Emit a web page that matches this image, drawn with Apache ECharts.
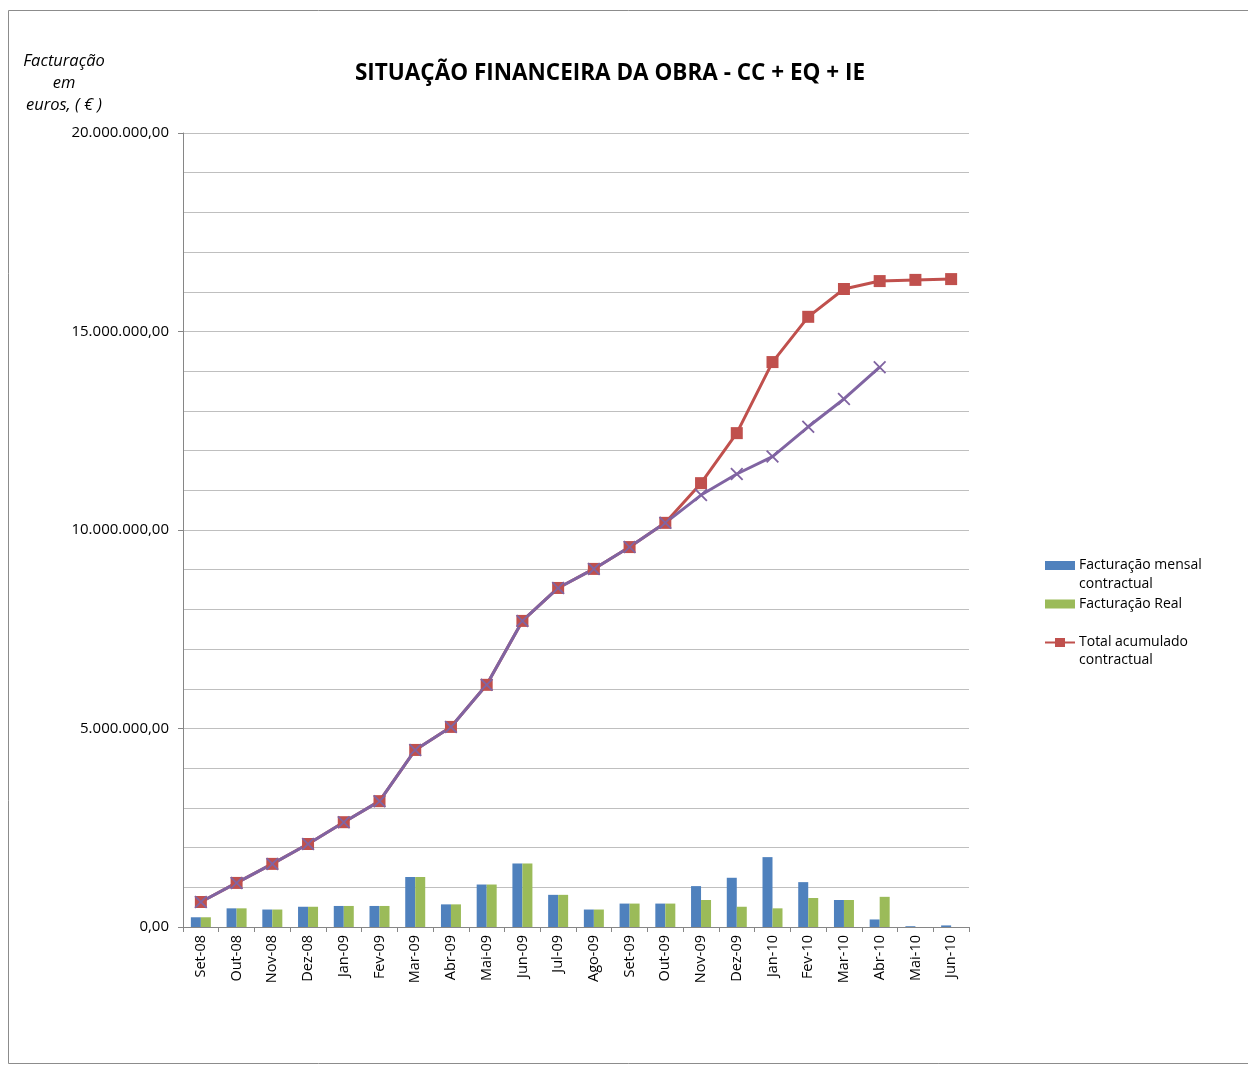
<!DOCTYPE html>
<html>
<head>
<meta charset="utf-8">
<script src="https://cdn.jsdelivr.net/npm/echarts@6/dist/echarts.min.js"></script>
<style>
  html, body { margin: 0; padding: 0; background: #fff; }
  #chart { width: 1248px; height: 1065px; }
</style>
</head>
<body>
<div id="chart"></div>
<script>
// categorias (meses)
var meses = ['Set-08','Out-08','Nov-08','Dez-08','Jan-09','Fev-09','Mar-09','Abr-09','Mai-09','Jun-09','Jul-09',
	'Ago-09','Set-09','Out-09','Nov-09','Dez-09','Jan-10','Fev-10','Mar-10','Abr-10','Mai-10','Jun-10'];

// facturação mensal contractual
var mensalContractual = [245000, 470000, 440000, 510000, 530000, 530000, 1260000, 570000, 1070000, 1600000, 810000,
	440000, 590000, 590000, 1030000, 1240000, 1760000, 1130000, 680000, 190000, 20000, 40000];

// facturação real
var mensalReal = [245000, 470000, 440000, 510000, 530000, 530000, 1260000, 570000, 1070000, 1600000, 810000,
	440000, 590000, 590000, 680000, 510000, 470000, 730000, 680000, 760000, 0, 0];

// total acumulado contractual
var acumContractual = [630000, 1110000, 1590000, 2090000, 2640000, 3170000, 4460000, 5040000, 6100000, 7710000, 8540000,
	9020000, 9570000, 10180000, 11180000, 12440000, 14230000, 15370000, 16070000, 16270000, 16300000, 16320000];

// total acumulado real
var acumReal = [630000, 1110000, 1590000, 2090000, 2640000, 3170000, 4460000, 5040000, 6100000, 7710000, 8540000,
	9020000, 9570000, 10180000, 10880000, 11410000, 11850000, 12600000, 13300000, 14100000, null, null];

function fmtEuro(v) {
	var s = Math.round(v).toString().replace(/\B(?=(\d{3})+(?!\d))/g, '.');
	return s + ',00';
}

var chart = echarts.init(document.getElementById('chart'));

var option = {
	animation: false,
	backgroundColor: '#fff',
	textStyle: { fontFamily: 'Open Sans, sans-serif' },
	title: {
		text: 'SITUAÇÃO FINANCEIRA DA OBRA - CC + EQ + IE',
		left: 605,
		top: 57,
		textAlign: 'center',
		textStyle: { fontSize: 22.5, fontWeight: 'bold', color: '#000', fontFamily: 'Open Sans, sans-serif' }
	},
	graphic: [
		{
			type: 'rect',
			shape: { x: 8.5, y: 10.5, width: 1245, height: 1053 },
			style: { fill: 'none', stroke: '#8c8c8c', lineWidth: 1 },
			silent: true
		},
		{
			type: 'text',
			style: {
				x: 64,
				y: 50,
				text: 'Facturação\nem\neuros, ( € )',
				font: 'italic 16.5px "Open Sans", sans-serif',
				fill: '#000',
				align: 'center',
				lineHeight: 22
			},
			silent: true
		},
		// segundas linhas das entradas da legenda
		{
			type: 'text',
			style: { x: 1079, y: 577, text: 'contractual', font: '14px "Open Sans", sans-serif', fill: '#000' },
			silent: true
		},
		{
			type: 'text',
			style: { x: 1079, y: 653, text: 'contractual', font: '14px "Open Sans", sans-serif', fill: '#000' },
			silent: true
		}
	],
	legend: {
		orient: 'vertical',
		left: 1040,
		top: 551,
		itemWidth: 30,
		itemHeight: 9,
		itemGap: 19.5,
		data: [
			{ name: 'Facturação mensal contractual', icon: 'rect' },
			{ name: 'Facturação Real', icon: 'rect' },
			{ name: 'Total acumulado contractual', icon: 'path://M0,3.5h10v-3.5h10v3.5h10v2h-10v3.5h-10v-3.5h-10z' }
		],
		formatter: function(name) {
			if (name === 'Facturação mensal contractual') return 'Facturação mensal';
			if (name === 'Total acumulado contractual') return 'Total acumulado';
			return name;
		},
		textStyle: { fontSize: 14, color: '#000', lineHeight: 19, padding: [0, 0, 0, -1] }
	},
	grid: {
		left: 183,
		right: 279,
		top: 133,
		bottom: 138
	},
	xAxis: {
		type: 'category',
		data: meses,
		axisLine: { lineStyle: { color: '#868686' } },
		axisTick: { show: true, lineStyle: { color: '#868686' }, length: 5 },
		axisLabel: { rotate: 90, fontSize: 14.5, color: '#000', margin: 8, interval: 0 }
	},
	yAxis: {
		type: 'value',
		min: 0,
		max: 20000000,
		interval: 5000000,
		axisLine: { show: true, lineStyle: { color: '#868686' } },
		axisTick: { show: true, length: 5, lineStyle: { color: '#868686' } },
		splitLine: { lineStyle: { color: '#bfbfbf' } },
		minorTick: { show: false, splitNumber: 5 },
		minorSplitLine: { show: true, lineStyle: { color: '#bfbfbf' } },
		axisLabel: {
			fontSize: 15,
			color: '#000',
			margin: 14,
			formatter: function(v) { return fmtEuro(v); }
		}
	},
	series: [
		{
			name: 'Facturação mensal contractual',
			type: 'bar',
			data: mensalContractual,
			barWidth: 10,
			barGap: '0%',
			itemStyle: { color: '#4f81bd' }
		},
		{
			name: 'Facturação Real',
			type: 'bar',
			data: mensalReal,
			barWidth: 10,
			itemStyle: { color: '#9bbb59' }
		},
		{
			name: 'Total acumulado contractual',
			type: 'line',
			data: acumContractual,
			symbol: 'rect',
			symbolSize: 12,
			lineStyle: { color: '#c0504d', width: 3 },
			itemStyle: { color: '#c0504d' }
		},
		{
			name: 'Total acumulado real',
			type: 'line',
			data: acumReal,
			symbol: 'path://M0,1L1,0L5,4L9,0L10,1L6,5L10,9L9,10L5,6L1,10L0,9L4,5Z',
			symbolSize: 13,
			lineStyle: { color: '#8064a2', width: 3 },
			itemStyle: { color: '#8064a2' }
		}
	]
};

chart.setOption(option);
</script>
</body>
</html>
